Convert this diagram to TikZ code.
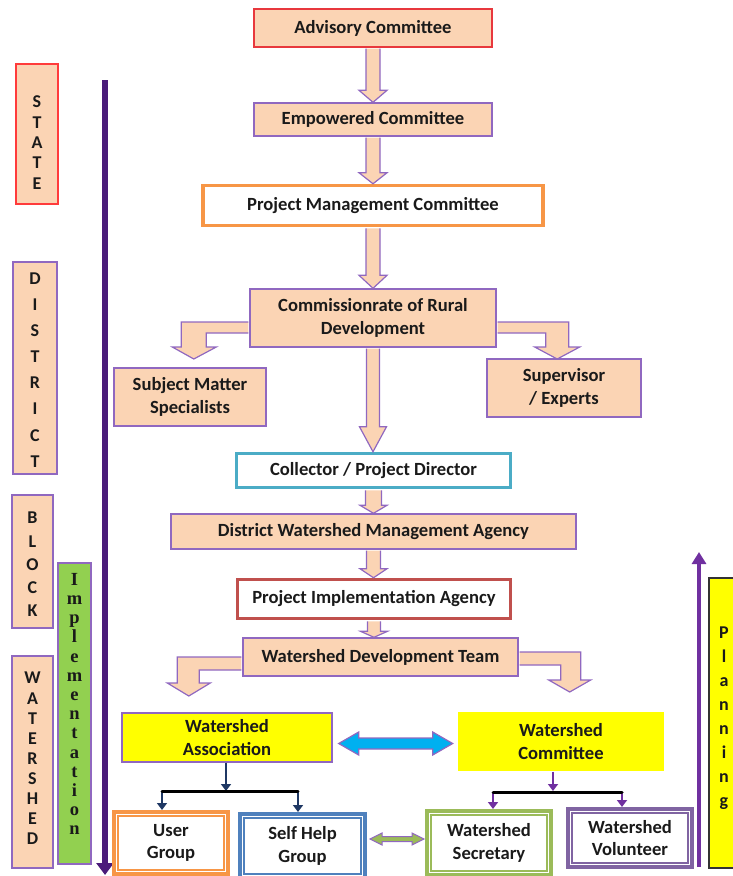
\documentclass[tikz,border=0pt]{standalone}
\usepackage{fontspec}
\setmainfont{Carlito}
\newfontfamily\impfont{Liberation Serif}
\usetikzlibrary{calc,arrows.meta}
\definecolor{peach}{HTML}{FBD4B4}
\definecolor{vio}{HTML}{9068C0}
\definecolor{advred}{HTML}{E8383D}
\definecolor{statered}{HTML}{FF3B3B}
\definecolor{pmcorange}{HTML}{F79646}
\definecolor{colcyan}{HTML}{4BACC6}
\definecolor{piared}{HTML}{C0504D}
\definecolor{implpurple}{HTML}{4B1C7A}
\definecolor{planpurple}{HTML}{7030A0}
\definecolor{navy}{HTML}{1F3864}
\definecolor{ylw}{HTML}{FFFF00}
\definecolor{grn}{HTML}{92D050}
\definecolor{shgblue}{HTML}{4F81BD}
\definecolor{secgreen}{HTML}{9BBB59}
\definecolor{volpurple}{HTML}{8064A2}
\definecolor{arrowblue}{HTML}{00B0F0}
\definecolor{txt}{HTML}{1A1A1A}
\tikzset{
  box/.style={draw=vio, line width=1.4pt, fill=peach, align=center, inner sep=0pt, text=txt,
    font=\fontsize{18.6}{22.5}\selectfont\bfseries},
  wbox/.style={box, fill=white, line width=3.5pt},
  ybox/.style={box, fill=ylw},
  dbox/.style={box, fill=white, line width=4pt},
  lblbox/.style={draw=vio, line width=1.4pt, fill=peach, inner sep=0pt},
  vlet/.style={align=center, inner sep=0pt, text=txt, font=\fontsize{18}{#1}\selectfont\bfseries},
  blockarrow/.style={draw=vio, line width=1.2pt, fill=peach, line join=miter},
  innerframe/.style={line width=1.2pt},
  navyarr/.style={draw=navy, line width=2.8pt, -{Triangle[width=10pt,length=7pt]}},
  purarr/.style={draw=planpurple, line width=2.8pt, -{Triangle[width=10pt,length=7pt]}},
  bar/.style={draw=black, line width=3pt, line cap=round},
}
% vertical block arrow: from, to, shaft half width, head half width, head length
\newcommand\vblock[5]{%
  \draw[blockarrow] let \p1=(#1.south), \p2=(#2.north) in
    (\x1-#3pt,\y1-1pt) -- (\x1-#3pt,\y2+#5pt) -- (\x1-#4pt,\y2+#5pt) -- (\x1,\y2)
    -- (\x1+#4pt,\y2+#5pt) -- (\x1+#3pt,\y2+#5pt) -- (\x1+#3pt,\y1-1pt);}
\begin{document}
\begin{tikzpicture}[x=1pt,y=-1pt]
\useasboundingbox (0,0) rectangle (733,876);
\clip (0,0) rectangle (733,876);

% ---------- left level labels ----------
\node[lblbox, draw=statered, minimum width=42pt, minimum height=140pt] (state) at (37,134) {};
\node[vlet=20.3] (stateT) at (37,142.5) {S\\T\\A\\T\\E};
\node[lblbox, minimum width=44pt, minimum height=212pt] (district) at (35,368) {};
\node[vlet=26.1] (districtT) at (35,370) {D\\I\\S\\T\\R\\I\\C\\T};
\node[lblbox, minimum width=41pt, minimum height=133pt] (block) at (32.5,561.5) {};
\node[vlet=23.3] (blockT) at (32.5,564.5) {B\\L\\O\\C\\K};
\node[lblbox, minimum width=41pt, minimum height=212pt] (wshed) at (32.5,762) {};
\node[vlet=20.1] (wshedT) at (32.5,758.5) {W\\A\\T\\E\\R\\S\\H\\E\\D};
\node[lblbox, fill=grn, minimum width=33pt, minimum height=301pt] (impl) at (74.5,713.5) {};
\node[align=center, inner sep=0pt, text=txt, font=\fontsize{18.5}{19.2}\selectfont\impfont\bfseries] (implT) at (74.5,704)
  {I\\m\\p\\l\\e\\m\\e\\n\\t\\a\\t\\i\\o\\n};
\node[lblbox, draw=black!80, line width=1.2pt, fill=ylw, minimum width=36pt, minimum height=290pt] (plan) at (727,723) {};
\node[vlet=24] (planT) at (724,718) {P\\l\\a\\n\\n\\i\\n\\g};

% direction arrows
\coordinate (implTop) at (105,80);
\coordinate (implBot) at (105,875);
\draw[implpurple, line width=5.5pt, -{Triangle[width=17pt,length=12pt]}] (implTop) -- (implBot);
\coordinate (planBot) at (699,867);
\coordinate (planTop) at (699,552);
\draw[planpurple, line width=3.5pt, -{Triangle[width=14pt,length=12pt]}] (planBot) -- (planTop);

% ---------- hierarchy boxes ----------
\node[box, draw=advred, minimum width=238pt, minimum height=38pt] (adv) at (373,28) {Advisory Committee};
\node[box, minimum width=238pt, minimum height=33pt] (emp) at (373,119.5) {Empowered Committee};
\node[wbox, draw=pmcorange, minimum width=340pt, minimum height=40pt] (pmc) at (373,205.5) {Project Management Committee};
\node[box, minimum width=246pt, minimum height=58pt] (crd) at (373,318) {Commissionrate of Rural\\Development};
\node[box, minimum width=152pt, minimum height=58pt] (sms) at (190,397) {Subject Matter\\Specialists};
\node[box, minimum width=154pt, minimum height=58pt] (sup) at (564,388) {Supervisor\\/ Experts};
\node[wbox, draw=colcyan, minimum width=274pt, minimum height=34pt] (col) at (373.5,470.5) {Collector / Project Director};
\node[box, minimum width=405pt, minimum height=35pt] (dwma) at (373.5,531.5) {District Watershed Management Agency};
\node[wbox, draw=piared, minimum width=273pt, minimum height=39pt] (pia) at (374,599) {Project Implementation Agency};
\node[box, minimum width=275pt, minimum height=38pt] (wdt) at (380.5,657) {Watershed Development Team};
\node[ybox, minimum width=210pt, minimum height=49pt] (wa) at (227,737.5) {Watershed\\Association};
\node[ybox, draw=none, minimum width=206pt, minimum height=59pt] (wc) at (561,741.5) {Watershed\\Committee};

\node[dbox, draw=pmcorange, minimum width=114pt, minimum height=62pt] (ug) at (171,843) {User\\Group};
\node[dbox, draw=shgblue, minimum width=125pt, minimum height=64pt] (shg) at (302.5,846) {Self Help\\Group};
\node[dbox, draw=secgreen, minimum width=124pt, minimum height=64pt] (wsec) at (489,843) {Watershed\\Secretary};
\node[dbox, draw=volpurple, minimum width=124pt, minimum height=58pt] (wvol) at (630,838) {Watershed\\Volunteer};
\foreach \n/\c in {ug/pmcorange, shg/shgblue, wsec/secgreen, wvol/volpurple}
  \draw[innerframe, \c] ([shift={(6,6)}]\n.north west) rectangle ([shift={(-6,-6)}]\n.south east);

% ---------- block arrows ----------
\vblock{adv}{emp}{7}{14}{12}
\vblock{emp}{pmc}{7}{14}{11}
\vblock{pmc}{crd}{7}{14}{13}
\vblock{crd}{col}{6.5}{13.5}{25}
\vblock{col}{dwma}{8}{13.5}{8}
\vblock{dwma}{pia}{7}{13.5}{9}
\vblock{pia}{wdt}{6.5}{13.5}{6}

\draw[blockarrow] ([shift={(-1,4)}]crd.west) -- ++(-67,0) -- ++(0,25) -- ++(-9,0) -- ++(21.5,12)
  -- ++(22.5,-12) -- ++(-10,0) -- ++(0,-14) -- ++(42,0);
\draw[blockarrow] ([shift={(1,4)}]crd.east) -- ++(71,0) -- ++(0,25) -- ++(11,0) -- ++(-22.5,12)
  -- ++(-22.5,-12) -- ++(11,0) -- ++(0,-14) -- ++(-48,0);
\draw[blockarrow] ([shift={(-1,0)}]wdt.west) -- ++(-64,0) -- ++(0,26) -- ++(-10,0) -- ++(21.5,13)
  -- ++(21.5,-13) -- ++(-11,0) -- ++(0,-13) -- ++(42,0);
\draw[blockarrow] ([shift={(1,-5)}]wdt.east) -- ++(61,0) -- ++(0,28) -- ++(10,0) -- ++(-21,12)
  -- ++(-21,-12) -- ++(12,0) -- ++(0,-15) -- ++(-41,0);

% double arrows
\draw[draw=vio, line width=1.2pt, fill=arrowblue, line join=miter] ([shift={(6,6)}]wa.east)
  -- ++(20,-11.5) -- ++(0,6) -- ++(74,0) -- ++(0,-6) -- ++(20,11.5) -- ++(-20,11.5)
  -- ++(0,-6) -- ++(-74,0) -- ++(0,6) -- cycle;
\draw[draw=vio, line width=1pt, fill=secgreen, line join=miter] ([shift={(3,-7)}]shg.east)
  -- ++(12,-6) -- ++(0,3.5) -- ++(30,0) -- ++(0,-3.5) -- ++(12,6) -- ++(-12,6)
  -- ++(0,-3.5) -- ++(-30,0) -- ++(0,3.5) -- cycle;

% ---------- tree connectors ----------
\coordinate (waJ) at (226,791);
\coordinate (waL) at (162,791);
\coordinate (waR) at (298,791);
\draw[navyarr] (wa.south -| waJ) -- (waJ);
\draw[navyarr] (waL) -- (waL |- ug.north);
\draw[navyarr] (waR) -- (waR |- shg.north);
\draw[bar] (waL) -- (waR);

\coordinate (wcJ) at (553,791);
\coordinate (wcL) at (493,792);
\coordinate (wcR) at (622,792);
\draw[purarr] (wc.south -| wcJ) -- (wcJ);
\draw[purarr] (wcL) -- (wcL |- wsec.north);
\draw[purarr] (wcR) -- (wcR |- wvol.north);
\draw[bar] (wcL) -- (wcR);
\end{tikzpicture}
\end{document}
